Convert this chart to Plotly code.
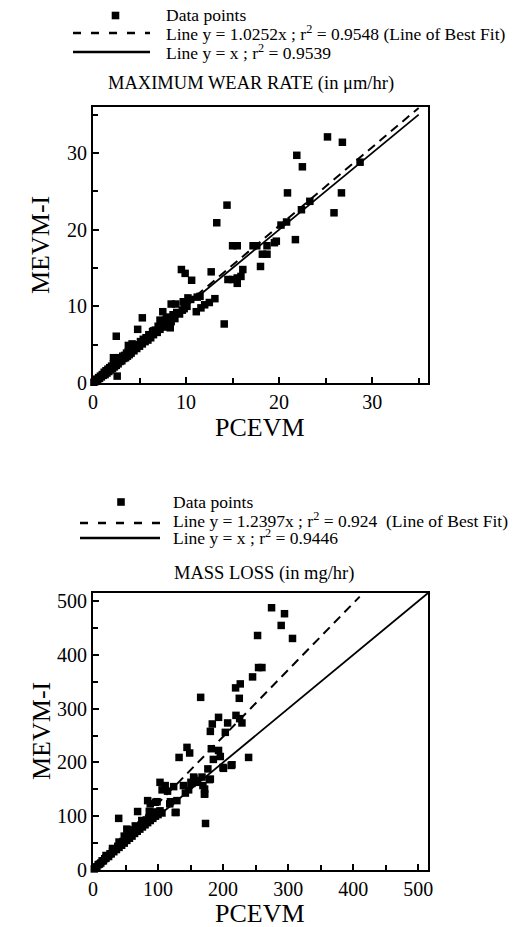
import plotly.graph_objects as go

W, H = 518, 927

# ---------------- DATA ----------------
# Top panel: Maximum wear rate (µm/hr)
wear_x = [0.1, 0.2, 0.3, 0.4, 0.5, 0.6, 0.7, 0.8, 0.9, 1.0, 1.1, 1.2, 1.3, 1.4, 1.5, 1.6, 1.7, 1.8, 1.9, 2.0,
          2.1, 2.2, 2.3, 2.4, 2.5, 2.6, 2.7, 2.8, 2.9, 3.0, 3.1, 3.2, 3.3, 3.4, 3.5, 3.6, 3.7, 3.8, 3.9, 4.0,
          4.1, 4.2, 4.4, 4.5, 4.7, 4.8, 5.0, 5.1, 5.3, 5.4, 5.6, 5.7, 5.9, 6.0, 6.2, 6.4, 6.5, 6.7, 6.9, 7.0,
          7.2, 7.4, 7.6, 7.8, 8.0, 8.2, 8.4, 8.6, 8.8, 9.0, 9.3, 9.6,
          25.2, 26.8, 21.9, 22.5, 28.7, 20.9, 26.7, 23.3, 22.4, 25.9, 14.4, 13.3, 20.2, 20.8, 21.75, 19.7,
          19.5, 15.0, 15.5, 17.2, 17.6, 18.7, 18.2, 18.7, 18.0, 12.7, 16.1, 14.5, 15.0, 15.5, 15.9, 15.5,
          9.5, 9.9, 10.6, 14.1, 9.7, 10.2, 10.5, 11.2, 11.5, 9.8, 10.1, 11.1, 11.6, 12.0, 12.5, 13.1,
          8.4, 8.9, 7.5, 7.9, 5.3, 4.8, 2.5, 2.6, 8.3, 8.7, 7.2, 8.0, 3.8, 4.2, 2.2, 2.75, 6.5]
wear_y = [0.1, 0.3, 0.2, 0.5, 0.4, 0.7, 0.6, 0.9, 0.8, 1.1, 1.0, 1.4, 1.1, 1.6, 1.3, 1.8, 1.5, 2.0, 1.7, 2.2,
          1.9, 2.5, 2.1, 2.6, 2.3, 2.9, 2.5, 3.1, 2.8, 3.3, 2.9, 3.5, 3.2, 3.6, 3.3, 3.9, 3.5, 4.1, 3.7, 4.5,
          3.9, 4.6, 4.2, 4.9, 4.5, 5.0, 4.8, 5.4, 5.1, 5.7, 5.4, 5.9, 5.6, 6.3, 5.9, 6.7, 6.3, 6.9, 6.6, 7.4,
          7.0, 7.8, 7.3, 8.2, 7.7, 8.5, 8.0, 8.9, 8.4, 9.2, 9.0, 9.5,
          32.1, 31.4, 29.7, 28.2, 28.8, 24.8, 24.8, 23.7, 22.6, 22.2, 23.2, 20.9, 20.6, 21.0, 18.7, 18.5,
          18.3, 17.9, 17.9, 17.9, 17.9, 17.9, 16.8, 16.8, 15.2, 14.5, 14.8, 13.5, 13.5, 13.7, 13.9, 13.0,
          14.8, 14.3, 13.4, 7.7, 10.6, 11.1, 10.9, 11.2, 11.3, 9.7, 10.0, 9.3, 9.8, 10.2, 10.5, 11.0,
          10.3, 10.3, 9.3, 8.6, 8.5, 7.0, 6.1, 0.9, 7.2, 8.6, 8.2, 8.1, 4.9, 5.1, 3.3, 3.3, 6.8]

# Bottom panel: Mass loss (mg/hr)
mass_x = [2, 4, 6, 8, 10, 12, 14, 16, 18, 20, 22, 24, 26, 28, 30, 32, 34, 36, 38, 40,
          42, 44, 46, 48, 50, 52, 54, 56, 58, 60, 62, 64, 66, 68, 70, 72, 74, 76, 78, 80,
          82, 84, 86, 88, 90, 92, 94, 96, 98, 100, 103, 106, 40, 48, 55, 65, 75, 30, 20,
          274.5, 294.4, 289.3, 306.7, 253, 254.5, 259.7, 245.3, 226.4, 219.2, 224.9, 165.5, 193, 219.8,
          225.4, 229, 183.4, 180.4, 207, 203.4, 144.5, 148.6, 181.9, 193, 195.7, 132.3, 239.2, 185,
          200.6, 176.6, 212.4, 179, 155, 159.7, 169, 171.4, 173, 139, 150.5, 103, 111, 114.6, 124,
          129, 118, 126.4, 84, 96, 86.5, 68.6, 39.5, 52, 60, 119, 127.7, 88, 98.5, 142, 147, 152,
          154.7, 171.6, 171.6, 213.7, 199.9, 180.4, 167.6, 157.3, 106.2]
mass_y = [2, 5, 6, 10, 11, 13, 17, 17, 21, 22, 26, 25, 30, 30, 35, 34, 39, 38, 44, 42,
          48, 46, 53, 50, 58, 55, 62, 59, 66, 63, 70, 68, 75, 72, 80, 76, 84, 80, 88, 84,
          93, 88, 97, 92, 101, 96, 105, 100, 108, 103, 110, 106, 52, 63, 72, 82, 92, 40, 27,
          487.6, 476.5, 454.7, 430.5, 436, 376.4, 376.4, 359, 346, 338.6, 319.2, 321, 283.8, 287.5,
          281.4, 273.4, 271.5, 257.7, 273.4, 255.9, 228, 217.5, 225.5, 222.3, 211, 209.3, 209.3, 205.6,
          189, 188, 194.4, 168, 171, 163, 157, 141, 86.5, 157, 163, 163, 157, 146.6, 155,
          129, 123, 107, 129, 126, 109, 108.7, 96, 76, 74.5, 127, 107, 123, 127, 143, 149, 161,
          172.8, 150.4, 141.6, 195.7, 190.7, 169, 172.8, 166.4, 149]

# Reference lines
wear_fit_slope = 1.0252
wear_line_x = [0, 35]
mass_fit_slope = 1.2397
mass_fit_x = [0, 410]
mass_line_x = [0, 515]

wear_range = [0, 36]
mass_range = [0, 515]

# Text
wear_title = "MAXIMUM WEAR RATE (in \u03bcm/hr)"
mass_title = "MASS LOSS (in mg/hr)"
wear_legend = ["Data points",
               "Line y = 1.0252x ; r<sup>2</sup> = 0.9548 (Line of Best Fit)",
               "Line y = x ; r<sup>2</sup> = 0.9539"]
mass_legend = ["Data points",
               "Line y = 1.2397x ; r<sup>2</sup> = 0.924&nbsp; (Line of Best Fit)",
               "Line y = x ; r<sup>2</sup> = 0.9446"]
x_title = "PCEVM"
y_title = "MEVM-I"

# ---------------- FIGURE ----------------
FONT = "Liberation Serif"


def fx(px):
    return px / W


def fy(py):
    return 1 - py / H


fig = go.Figure()

# top panel
fig.add_trace(go.Scatter(x=wear_x, y=wear_y, mode="markers", cliponaxis=False,
                         marker=dict(symbol="square", size=7.5, color="black"),
                         xaxis="x", yaxis="y", showlegend=False))
fig.add_trace(go.Scatter(x=wear_line_x, y=[wear_fit_slope * v for v in wear_line_x], mode="lines",
                         line=dict(color="black", width=2, dash="9px,6px"),
                         xaxis="x", yaxis="y", showlegend=False))
fig.add_trace(go.Scatter(x=wear_line_x, y=wear_line_x, mode="lines",
                         line=dict(color="black", width=1.8),
                         xaxis="x", yaxis="y", showlegend=False))

# bottom panel
fig.add_trace(go.Scatter(x=mass_x, y=mass_y, mode="markers", cliponaxis=False,
                         marker=dict(symbol="square", size=7.5, color="black"),
                         xaxis="x2", yaxis="y2", showlegend=False))
fig.add_trace(go.Scatter(x=mass_fit_x, y=[mass_fit_slope * v for v in mass_fit_x], mode="lines",
                         line=dict(color="black", width=2, dash="9px,6px"),
                         xaxis="x2", yaxis="y2", showlegend=False))
fig.add_trace(go.Scatter(x=mass_line_x, y=mass_line_x, mode="lines",
                         line=dict(color="black", width=1.8),
                         xaxis="x2", yaxis="y2", showlegend=False))

axis_common = dict(showline=True, linecolor="black", linewidth=2, mirror=True,
                   ticks="inside", ticklen=6, tickwidth=1.5, tickcolor="black",
                   showgrid=False, zeroline=False, automargin=False,
                   tickfont=dict(family=FONT, size=20, color="black"))

xdom = [fx(93), fx(428)]
fig.update_layout(
    width=W, height=H, margin=dict(l=0, r=0, t=0, b=0),
    paper_bgcolor="white", plot_bgcolor="white", showlegend=False,
    font=dict(family=FONT, color="black"),
    xaxis=dict(domain=xdom, range=wear_range, anchor="y", dtick=10,
               minor=dict(ticks="inside", dtick=5, ticklen=5, tickwidth=1.5, tickcolor="black"),
               **axis_common),
    yaxis=dict(domain=[fy(383), fy(107)], range=wear_range, anchor="x", dtick=10,
               minor=dict(ticks="inside", dtick=5, ticklen=5, tickwidth=1.5, tickcolor="black"),
               **axis_common),
    xaxis2=dict(domain=xdom, range=mass_range, anchor="y2", dtick=100,
                minor=dict(ticks="inside", dtick=50, ticklen=5, tickwidth=1.5, tickcolor="black"),
                **axis_common),
    yaxis2=dict(domain=[fy(870), fy(593)], range=mass_range, anchor="x2", dtick=100,
                minor=dict(ticks="inside", dtick=50, ticklen=5, tickwidth=1.5, tickcolor="black"),
                **axis_common),
)

ann = []
shapes = []


def text(px, py, s, size, xanchor="center", angle=0):
    ann.append(dict(x=fx(px), y=fy(py), xref="paper", yref="paper", text=s, showarrow=False,
                    xanchor=xanchor, yanchor="middle", textangle=angle,
                    font=dict(family=FONT, size=size, color="black")))


# titles
text(251, 83, wear_title, 18.5)
text(264, 573, mass_title, 18.5)
# axis titles
text(260, 428, x_title, 26)
text(260, 913, x_title, 26)
text(41, 245, y_title, 26, angle=-90)
text(41, 731, y_title, 26, angle=-90)


def legend(marker_x, marker_y, line_x0, line_x1, dash_y, solid_y, text_x, text_ys, labels):
    shapes.append(dict(type="rect", xref="paper", yref="paper",
                       x0=fx(marker_x - 3.8), x1=fx(marker_x + 3.8),
                       y0=fy(marker_y + 3.8), y1=fy(marker_y - 3.8),
                       fillcolor="black", line=dict(width=0)))
    shapes.append(dict(type="line", xref="paper", yref="paper",
                       x0=fx(line_x0), x1=fx(line_x1), y0=fy(dash_y), y1=fy(dash_y),
                       line=dict(color="black", width=2.5, dash="8px,10px")))
    shapes.append(dict(type="line", xref="paper", yref="paper",
                       x0=fx(line_x0), x1=fx(line_x1), y0=fy(solid_y), y1=fy(solid_y),
                       line=dict(color="black", width=2.5)))
    for ty, lab in zip(text_ys, labels):
        text(text_x, ty, lab, 17.5, xanchor="left")


legend(115.5, 15.5, 73, 150, 33, 52, 164, [15, 33, 52], wear_legend)
legend(121, 502, 80, 160, 523, 538, 171, [502, 520, 537], mass_legend)

fig.update_layout(annotations=ann, shapes=shapes)

fig.write_html("out.html", config={"displayModeBar": False},
               post_script="document.body.style.margin='0';document.body.style.overflow='hidden';")
